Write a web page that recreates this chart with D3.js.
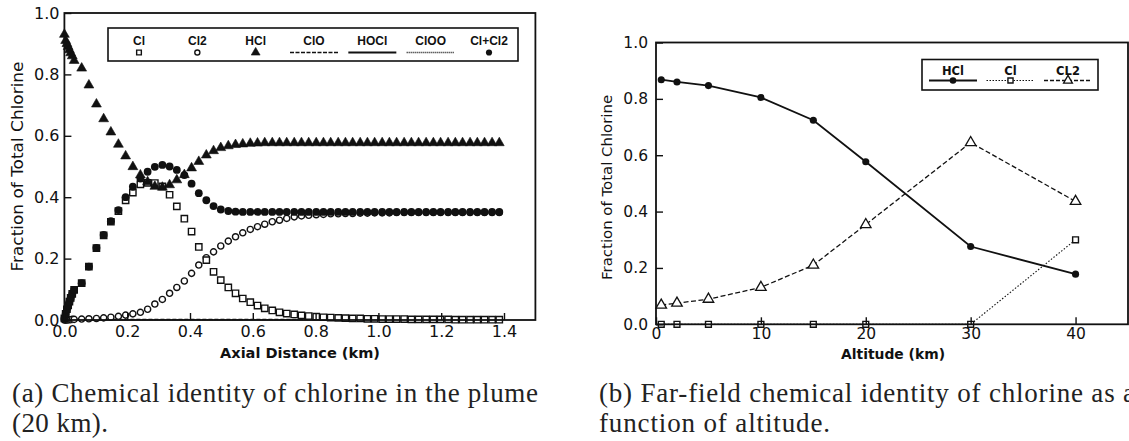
<!DOCTYPE html>
<html>
<head>
<meta charset="utf-8">
<script src="https://cdn.jsdelivr.net/npm/d3@7"></script>
<style>
body { margin: 0; background: #fff; }
svg { display: block; }
</style>
</head>
<body>
<script>
const w = 1129
const h = 441

// (a) plume at 20 km: axial distance (km) and fraction of total chlorine
const distKm = [0.000, 0.004, 0.008, 0.012, 0.016, 0.020, 0.025, 0.031,
    0.055, 0.078, 0.102, 0.125, 0.148, 0.172, 0.195, 0.218, 0.242, 0.265,
    0.288, 0.312, 0.335, 0.358, 0.382, 0.405, 0.428, 0.452, 0.475, 0.498,
    0.522, 0.545, 0.568, 0.592, 0.615, 0.638, 0.662, 0.685, 0.708, 0.732,
    0.755, 0.778, 0.802, 0.825, 0.848, 0.872, 0.895, 0.918, 0.942, 0.965,
    0.988, 1.012, 1.035, 1.058, 1.082, 1.105, 1.128, 1.152, 1.175, 1.198,
    1.222, 1.245, 1.268, 1.292, 1.315, 1.338, 1.362, 1.385]

const hclFrac = [0.93, 0.91, 0.90, 0.89, 0.88, 0.87, 0.86, 0.845,
    0.82, 0.765, 0.703, 0.655, 0.612, 0.572, 0.534, 0.499, 0.472, 0.45,
    0.435, 0.432, 0.44, 0.456, 0.473, 0.495, 0.516, 0.537, 0.551, 0.561,
    0.567, 0.571, 0.573, 0.575, 0.576, 0.577, 0.577, 0.577, 0.577, 0.577,
    0.577, 0.577, 0.577, 0.577, 0.577, 0.577, 0.577, 0.577, 0.577, 0.577,
    0.577, 0.577, 0.577, 0.577, 0.577, 0.577, 0.577, 0.577, 0.577, 0.577,
    0.577, 0.577, 0.577, 0.577, 0.577, 0.577, 0.577, 0.577]

const clSumFrac = [0.005, 0.02, 0.035, 0.048, 0.06, 0.072, 0.085, 0.098,
    0.12, 0.174, 0.235, 0.277, 0.322, 0.358, 0.40, 0.434, 0.461, 0.483,
    0.499, 0.505, 0.50, 0.489, 0.472, 0.444, 0.413, 0.39, 0.371, 0.36,
    0.355, 0.353, 0.352, 0.352, 0.352, 0.352, 0.352, 0.352, 0.352, 0.352,
    0.352, 0.352, 0.352, 0.352, 0.352, 0.352, 0.352, 0.352, 0.352, 0.352,
    0.352, 0.352, 0.352, 0.352, 0.352, 0.352, 0.352, 0.352, 0.352, 0.352,
    0.352, 0.352, 0.352, 0.352, 0.352, 0.352, 0.352, 0.352]

const clFrac = [0.005, 0.02, 0.035, 0.048, 0.06, 0.072, 0.085, 0.098,
    0.12, 0.174, 0.234, 0.276, 0.32, 0.355, 0.39, 0.415, 0.442, 0.447,
    0.446, 0.435, 0.408, 0.37, 0.33, 0.288, 0.238, 0.195, 0.157, 0.13,
    0.106, 0.087, 0.07, 0.058, 0.047, 0.038, 0.031, 0.025, 0.021, 0.018,
    0.015, 0.013, 0.011, 0.009, 0.008, 0.007, 0.006, 0.005, 0.005, 0.004,
    0.004, 0.003, 0.003, 0.003, 0.003, 0.002, 0.002, 0.002, 0.002, 0.002,
    0.002, 0.001, 0.001, 0.001, 0.001, 0.001, 0.001, 0.001]

const cl2Frac = [0, 0, 0, 0.001, 0.001, 0.001, 0.002, 0.002,
    0.003, 0.004, 0.005, 0.007, 0.009, 0.012, 0.016, 0.02, 0.025, 0.035,
    0.052, 0.067, 0.087, 0.106, 0.127, 0.152, 0.179, 0.203, 0.222, 0.241,
    0.257, 0.271, 0.284, 0.295, 0.304, 0.312, 0.32, 0.325, 0.331, 0.336,
    0.339, 0.341, 0.343, 0.344, 0.346, 0.346, 0.347, 0.347, 0.348, 0.348,
    0.349, 0.349, 0.349, 0.35, 0.35, 0.35, 0.35, 0.35, 0.35, 0.35,
    0.35, 0.35, 0.35, 0.35, 0.35, 0.35, 0.35, 0.35]

// ClO, HOCl, ClOO stay on the axis
const lineKm = [0, 1.385]
const cloFrac = [0.002, 0.002]
const hoclFrac = [0, 0]
const clooFrac = [0.001, 0.001]

const legendA = ['Cl', 'Cl2', 'HCl', 'ClO', 'HOCl', 'ClOO', 'Cl+Cl2']

// (b) far field
const altKm = [0.5, 2, 5, 10, 15, 20, 30, 40]
const hclAlt = [0.868, 0.86, 0.847, 0.805, 0.724, 0.577, 0.276, 0.178]
const clAlt = [0, 0, 0, 0, 0, 0, 0, 0.30]
const cl2Alt = [0.068, 0.075, 0.089, 0.131, 0.21, 0.354, 0.645, 0.436]

const legendB = ['HCl', 'Cl', 'CL2']

const fracTicks = [0, 0.2, 0.4, 0.6, 0.8, 1.0]
const fracMinor = [0.1, 0.3, 0.5, 0.7, 0.9]
const distTicks = [0, 0.2, 0.4, 0.6, 0.8, 1.0, 1.2, 1.4]
const distMinor = [0.1, 0.3, 0.5, 0.7, 0.9, 1.1, 1.3]
const altTicks = [0, 10, 20, 30, 40]
const altMinor = [5, 15, 25, 35]

const captionA = ['(a) Chemical identity of chlorine in the plume', '(20 km).']
const captionB = ['(b) Far-field chemical identity of chlorine as a', 'function of altitude.']

const ink = '#111'
const tickFont = 'DejaVu Sans, sans-serif'

const svg = d3.select('body').append('svg')
    .attr('width', w)
    .attr('height', h)
    .style('background', '#fff')

function drawFrame(x, y, o) {
    const g = svg.append('g')
    const x0 = x.range()[0], x1 = x.range()[1]
    const y0 = y.range()[0], y1 = y.range()[1]

    const ax = g.append('g').attr('transform', `translate(0,${y0})`)
    ax.call(d3.axisBottom(x).tickValues(o.xMinor).tickSize(-6).tickFormat(''))
    ax.call(d3.axisBottom(x).tickValues(o.xTicks).tickSizeInner(-7).tickSizeOuter(0)
        .tickPadding(o.xPad).tickFormat(o.xFmt))

    const ay = g.append('g').attr('transform', `translate(${x0},0)`)
    ay.call(d3.axisLeft(y).tickValues(o.yMinor).tickSize(-6).tickFormat(''))
    ay.call(d3.axisLeft(y).tickValues(o.yTicks).tickSizeInner(-7).tickSizeOuter(0)
        .tickPadding(o.yPad).tickFormat(d3.format('.1f')))

    g.selectAll('.domain').remove()
    g.selectAll('.tick line').attr('stroke', ink).attr('stroke-width', 1.4)
    g.selectAll('.tick text')
        .attr('font-family', tickFont)
        .attr('font-size', o.fontSize)
        .attr('fill', ink)

    g.append('rect')
        .attr('x', x0).attr('y', y1)
        .attr('width', x1 - x0).attr('height', y0 - y1)
        .attr('fill', 'none')
        .attr('stroke', ink)
        .attr('stroke-width', 1.8)

    svg.append('text')
        .attr('transform', `translate(${o.yTitleX},${(y0 + y1) / 2 + o.yTitleDy}) rotate(-90)`)
        .attr('text-anchor', 'middle')
        .attr('dominant-baseline', 'central')
        .attr('font-family', tickFont)
        .attr('font-size', o.yTitleSize)
        .attr('textLength', o.yTitleLen)
        .attr('lengthAdjust', 'spacingAndGlyphs')
        .attr('fill', ink)
        .text('Fraction of Total Chlorine')

    svg.append('text')
        .attr('x', o.xTitleX).attr('y', o.xTitleY)
        .attr('text-anchor', 'middle')
        .attr('font-family', tickFont)
        .attr('font-weight', 'bold')
        .attr('font-size', o.xTitleSize)
        .attr('textLength', o.xTitleLen)
        .attr('lengthAdjust', 'spacingAndGlyphs')
        .attr('fill', ink)
        .text(o.xTitle)
}

function marker(sel, kind, size) {
    if (kind === 'triangle') {
        sel.append('path').attr('d', d3.symbol(d3.symbolTriangle, size)())
            .attr('fill', ink).attr('stroke', ink).attr('stroke-width', 0.6)
    } else if (kind === 'triangleOpen') {
        sel.append('path').attr('d', d3.symbol(d3.symbolTriangle, size)())
            .attr('fill', '#fff').attr('stroke', ink).attr('stroke-width', 1.3)
    } else if (kind === 'square') {
        sel.append('path').attr('d', d3.symbol(d3.symbolSquare, size)())
            .attr('fill', '#fff').attr('stroke', ink).attr('stroke-width', 1.4)
    } else if (kind === 'circleOpen') {
        sel.append('circle').attr('r', Math.sqrt(size / Math.PI))
            .attr('fill', '#fff').attr('stroke', ink).attr('stroke-width', 1.4)
    } else {
        sel.append('circle').attr('r', Math.sqrt(size / Math.PI))
            .attr('fill', ink)
    }
}

function scatter(x, y, xs, ys, kind, size) {
    const pts = xs.map((d, i) => [d, ys[i]])
    svg.append('g').selectAll('g')
        .data(pts)
        .enter()
        .append('g')
        .attr('transform', d => `translate(${x(d[0])},${y(d[1])})`)
        .each(function () { marker(d3.select(this), kind, size) })
}

function line(x, y, xs, ys, width, dash) {
    const pts = xs.map((d, i) => [d, ys[i]])
    svg.append('path')
        .datum(pts)
        .attr('d', d3.line().x(d => x(d[0])).y(d => y(d[1])))
        .attr('fill', 'none')
        .attr('stroke', ink)
        .attr('stroke-width', width)
        .attr('stroke-dasharray', dash)
}

// ---------- panel (a) ----------
const xA = d3.scaleLinear().domain([0, 1.5]).range([64.4, 535.4])
const yA = d3.scaleLinear().domain([0, 1]).range([320, 13])

line(xA, yA, lineKm, cloFrac, 1.2, '4,2')
line(xA, yA, lineKm, hoclFrac, 1.2, null)
line(xA, yA, lineKm, clooFrac, 1, '1,1.5')

scatter(xA, yA, distKm, cl2Frac, 'circleOpen', 30)
scatter(xA, yA, distKm, clFrac, 'square', 40)
scatter(xA, yA, distKm, clSumFrac, 'circle', 48)
scatter(xA, yA, distKm, hclFrac, 'triangle', 42)

drawFrame(xA, yA, {
    xTicks: distTicks, xMinor: distMinor, yTicks: fracTicks, yMinor: fracMinor,
    xFmt: d3.format('.1f'), xPad: 6, yPad: 5, fontSize: 16,
    yTitleX: 17.5, yTitleDy: 0, yTitleSize: 16, yTitleLen: 210,
    xTitle: 'Axial Distance (km)', xTitleX: 300, xTitleY: 358, xTitleSize: 14.5, xTitleLen: 160
})

// legend (a)
const legA = svg.append('g')
legA.append('rect')
    .attr('x', 108).attr('y', 28).attr('width', 410).attr('height', 33)
    .attr('fill', '#fff').attr('stroke', ink).attr('stroke-width', 1.6)
const legAx = d3.scalePoint().domain(legendA).range([139, 489])
legA.selectAll('text')
    .data(legendA)
    .enter()
    .append('text')
    .attr('x', d => legAx(d))
    .attr('y', 45)
    .attr('text-anchor', 'middle')
    .attr('font-family', 'Liberation Sans, Arial, sans-serif')
    .attr('font-weight', 'bold')
    .attr('font-size', 12)
    .attr('fill', ink)
    .text(d => d)
const legASym = {Cl: ['square', 22], Cl2: ['circleOpen', 20], HCl: ['triangle', 34], 'Cl+Cl2': ['circle', 30]}
const legALine = {ClO: '4,1.5', HOCl: null, ClOO: '1,1'}
legendA.forEach(function (k) {
    const cx = legAx(k)
    if (legASym[k]) {
        const g = legA.append('g').attr('transform', `translate(${cx},52.5)`)
        marker(g, legASym[k][0], legASym[k][1])
    } else {
        legA.append('line')
            .attr('x1', cx - 24).attr('x2', cx + 24)
            .attr('y1', 52.5).attr('y2', 52.5)
            .attr('stroke', ink)
            .attr('stroke-width', k === 'HOCl' ? 1.8 : 1.4)
            .attr('stroke-dasharray', legALine[k])
    }
})

// ---------- panel (b) ----------
const xB = d3.scaleLinear().domain([0, 45]).range([656, 1128])
const yB = d3.scaleLinear().domain([0, 1]).range([324.3, 42.5])

line(xB, yB, altKm, hclAlt, 1.8, null)
line(xB, yB, altKm, clAlt, 1.1, '1.5,1.8')
line(xB, yB, altKm, cl2Alt, 1.3, '5,2.5')

scatter(xB, yB, altKm, clAlt, 'square', 34)
scatter(xB, yB, altKm, cl2Alt, 'triangleOpen', 48)
scatter(xB, yB, altKm, hclAlt, 'circle', 40)

drawFrame(xB, yB, {
    xTicks: altTicks, xMinor: altMinor, yTicks: fracTicks, yMinor: fracMinor,
    xFmt: d3.format('d'), xPad: 4, yPad: 8, fontSize: 15.5,
    yTitleX: 607, yTitleDy: 4, yTitleSize: 14.5, yTitleLen: 185,
    xTitle: 'Altitude (km)', xTitleX: 893, xTitleY: 359, xTitleSize: 13.5, xTitleLen: 104
})

// legend (b)
const legB = svg.append('g')
legB.append('rect')
    .attr('x', 922).attr('y', 59.5).attr('width', 176).attr('height', 30.5)
    .attr('fill', '#fff').attr('stroke', ink).attr('stroke-width', 1.6)
const legBx = d3.scalePoint().domain(legendB).range([953, 1068])
const legBSym = {HCl: ['circle', 34, 1.8, null], Cl: ['square', 26, 1.1, '1.5,1.5'], CL2: ['triangleOpen', 34, 1.3, '4,2']}
legendB.forEach(function (k) {
    const cx = legBx(k)
    legB.append('text')
        .attr('x', cx).attr('y', 74.5)
        .attr('text-anchor', 'middle')
        .attr('font-family', tickFont)
        .attr('font-weight', 'bold')
        .attr('font-size', 11.5)
        .attr('fill', ink)
        .text(k)
    legB.append('line')
        .attr('x1', cx - 24).attr('x2', cx + 24)
        .attr('y1', 80.5).attr('y2', 80.5)
        .attr('stroke', ink)
        .attr('stroke-width', legBSym[k][2])
        .attr('stroke-dasharray', legBSym[k][3])
    const g = legB.append('g').attr('transform', `translate(${cx},80.5)`)
    marker(g, legBSym[k][0], legBSym[k][1])
})

// ---------- captions ----------
function caption(x, lines, lens) {
    lines.forEach(function (t, i) {
        svg.append('text')
            .attr('x', x).attr('y', 402 + i * 30)
            .attr('font-family', 'Liberation Serif, Times New Roman, serif')
            .attr('font-size', 27)
            .attr('textLength', lens[i])
            .attr('lengthAdjust', 'spacing')
            .attr('fill', '#222')
            .text(t)
    })
}
caption(12, captionA, [526, 96])
caption(599, captionB, [536, 231])
</script>
</body>
</html>
